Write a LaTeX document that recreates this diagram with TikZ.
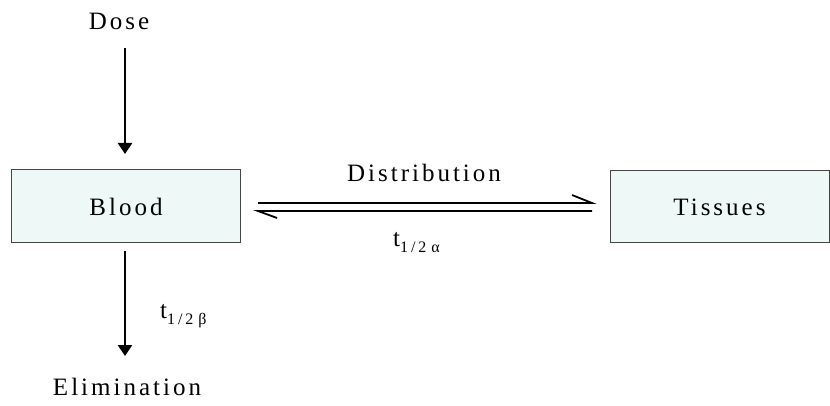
\documentclass[tikz,border=0pt]{standalone}
\usepackage{fontspec}
\setmainfont{Liberation Serif}
\newfontfamily\spaced[LetterSpace=12]{Liberation Serif}
\newfontfamily\subspaced[LetterSpace=18]{Liberation Serif}
\usetikzlibrary{arrows.meta}
\definecolor{boxfill}{RGB}{238,249,247}
\definecolor{boxline}{RGB}{70,70,70}
\newcommand{\halfsub}[1]{\raisebox{-6pt}{\subspaced\fontsize{16}{18}\selectfont 1/2\hspace{5pt}#1}}
\tikzset{
  x=1pt,y=-1pt,
  box/.style={draw=boxline,line width=1pt,fill=boxfill,inner sep=0pt,font=\spaced\fontsize{25}{29}\selectfont},
  lbl/.style={inner sep=0pt,font=\spaced\fontsize{25}{29}\selectfont},
  arr/.style={line width=2.8pt,-{Triangle[length=11pt,width=14pt]}},
  harp/.style={line width=1.8pt,line cap=butt},
}
\begin{document}
\begin{tikzpicture}
\useasboundingbox (0,0) rectangle (830,406);
\node[box,minimum width=229pt,minimum height=73pt] (blood) at (126,206.5) {Blood};
\node[box,minimum width=219pt,minimum height=72pt] (tissues) at (719.5,207) {Tissues};
\node[lbl] (dose) at (119,21) {Dose};
\node[lbl] (elim) at (127,387) {Elimination};
\node[lbl] (dist) at (424,173) {Distribution};
\node[lbl,anchor=base west] (ta) at (393,247) {t\halfsub{α}};
\node[lbl,anchor=base west] (tb) at (160,318) {t\halfsub{β}};
\coordinate (d1) at (125,48);
\coordinate (d2) at (125,154);
\coordinate (e1) at (125,251);
\coordinate (e2) at (125,356);
\draw[arr] (d1) -- (d2);
\draw[arr] (e1) -- (e2);
\coordinate (u1) at (258,203);
\coordinate (u2) at (592,203);
\coordinate (ub) at (572,195);
\coordinate (l1) at (592,211);
\coordinate (l2) at (258,211);
\coordinate (lb) at (277,218);
\draw[harp] (u1) -- (u2) -- (ub);
\draw[harp] (l1) -- (l2) -- (lb);
\end{tikzpicture}
\end{document}
